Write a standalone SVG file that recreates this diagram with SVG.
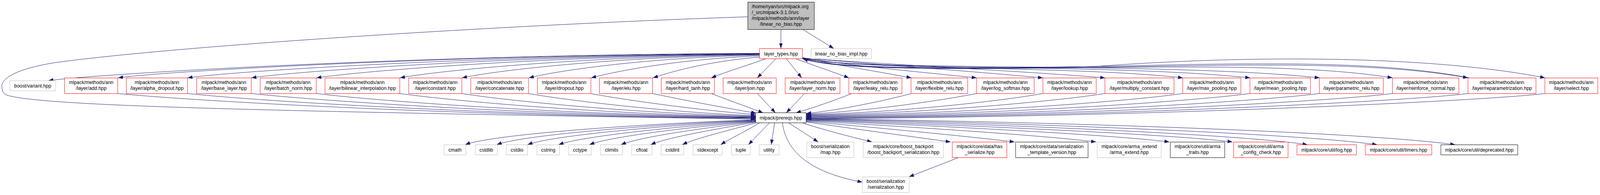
<svg xmlns="http://www.w3.org/2000/svg" width="4308" height="499" viewBox="0 0 4308 499">
<style>
.n rect{fill:#ffffff;stroke-width:1}
.r rect{stroke:#ff0000}
.g rect{stroke:#bfbfbf}
.k rect{stroke:#000000}
.root rect{fill:#bfbfbf;stroke:#000000}
text{font-family:"Liberation Sans",Arial,Helvetica,sans-serif;font-size:13px;fill:#000000;text-anchor:middle}
text.s{text-anchor:start}
#edges path{fill:none;stroke:#191970;stroke-width:1;marker-end:url(#a)}
</style>
<defs>
<marker id="a" markerWidth="14" markerHeight="10" refX="13.3" refY="4.65" orient="auto" markerUnits="userSpaceOnUse">
<path d="M0,0 L13.3,4.65 L0,9.3 z" fill="#191970"/>
</marker>
</defs>
<rect width="4308" height="499" fill="#ffffff"/>
<g id="diagram" transform="scale(0.9508,1)">
<g id="edges">
<path d="M2102.5,75.5 L2102.5,124.3"/>
<path d="M2161.7,75.5 L2245,124.3"/>
<path d="M2013,43 C1400,62 500,115 150,160 C30,178 5,205 5,220 C5,232 8,240 20,244 C120,270 600,283 2034.5,305"/>
<path d="M2045,136.5 C1086,140 228,192 130,206.5"/>
<path d="M2045,137 C1181,141 418,184 318,199.3"/>
<path d="M2045,137.5 C1275,142 605,184 505,199.3"/>
<path d="M2045,138 C1361,143 777,184 677,199.3"/>
<path d="M2045,138.5 C1448,144 952,184 852,199.3"/>
<path d="M2045,139 C1561,145 1170,182 1077,199.3"/>
<path d="M2045,140 C1645,146 1330,181 1244,199.3"/>
<path d="M2045,141 C1735,148 1500,181 1424,199.3"/>
<path d="M2045,143 C1820,152 1660,182 1591.5,199.3"/>
<path d="M2045,146 C1900,158 1810,183 1758,199.3"/>
<path d="M2062,150.3 C2020,165 1960,182 1915,199.3"/>
<path d="M2089,150.3 L2039,199.3"/>
<path d="M2117,150.3 L2158.6,199.3"/>
<path d="M2142,150.3 L2286,199.3"/>
<path d="M2160.7,148 C2260,168 2370,184 2454,199.3"/>
<path d="M2160.7,147.5 C2300,170 2500,186 2629.5,199.3"/>
<path d="M2160.7,148.5 C2400,168 2650,185 2808,199.3"/>
<path d="M2160.7,149 C2450,168 2800,185 2975.5,199.3"/>
<path d="M2160.7,149 C2300,180 2900,168 3185,199.3"/>
<path d="M2160.7,149.5 C2300,182 3000,162 3366,199.3"/>
<path d="M2160.7,149.5 C2300,183 3150,158 3553,199.3"/>
<path d="M2160.7,150 C2250,180 2550,177 2950,173 C3250,170 3550,168 3749,199.3"/>
<path d="M2160.7,150 C2250,179 2550,176 2950,172 C3350,166 3700,156 3952.5,199.3"/>
<path d="M2160.7,150 C2250,178 2600,176 2950,170 C3450,135 3900,150 4160,199.3"/>
<path d="M3957,199.3 C3700,152 3350,162 2950,170 C2550,176 2250,177 2162,150.8"/>
<path d="M317,239.3 C520,258 1200,296 2034.5,303"/>
<path d="M505,239.3 C690,258 1300,295 2034.5,302"/>
<path d="M676.5,239.3 C850,257 1400,294 2034.5,301"/>
<path d="M851.5,239.3 C1000,257 1500,293 2034.5,300"/>
<path d="M1076.5,239.3 C1200,256 1600,292 2034.5,299"/>
<path d="M1243.5,239.3 C1350,256 1700,290 2034.5,297.5"/>
<path d="M1423,239.3 C1520,256 1800,288 2034.5,296"/>
<path d="M1591,239.3 C1680,256 1900,284 2034.5,293"/>
<path d="M1757,239.3 C1830,254 1950,276 2036,289.5"/>
<path d="M1915,239.3 C1960,256 2020,276 2055,289"/>
<path d="M2039,239.3 L2088,288.7"/>
<path d="M2166,239.3 L2117,288.7"/>
<path d="M2293,239.3 C2250,256 2190,276 2143,288.7"/>
<path d="M2454,239.3 C2380,258 2260,282 2170.7,290.5"/>
<path d="M2629.5,239.3 C2530,258 2330,285 2170.7,292"/>
<path d="M2808,239.3 C2700,258 2420,288 2170.7,293.5"/>
<path d="M2975,239.3 C2850,258 2500,290 2170.7,295"/>
<path d="M3184.5,239.3 C3050,258 2600,292 2170.7,296.5"/>
<path d="M3365.5,239.3 C3220,258 2700,294 2170.7,298"/>
<path d="M3552.5,239.3 C3400,258 2800,296 2170.7,299.5"/>
<path d="M3749,239.3 C3600,258 2900,297 2170.7,301"/>
<path d="M3952.5,239.3 C3800,258 3000,298 2170.7,302.5"/>
<path d="M4159.5,239.3 C4000,258 3100,299 2170.7,304"/>
<path d="M2034.5,306.5 C1700,318 1320,345 1252.6,370.3"/>
<path d="M2034.5,307.5 C1730,320 1400,347 1337.6,370.3"/>
<path d="M2034.5,308.5 C1770,322 1480,348 1420.5,370.3"/>
<path d="M2034.5,309.5 C1810,324 1560,350 1504,370.3"/>
<path d="M2034.5,310.5 C1850,326 1640,350 1587,370.3"/>
<path d="M2034.5,311.5 C1890,328 1720,351 1672,370.3"/>
<path d="M2034.5,312.5 C1930,330 1795,352 1752,370.3"/>
<path d="M2036,314.3 C1970,332 1875,353 1837,370.3"/>
<path d="M2045,314.3 C2010,335 1965,355 1940.5,370.3"/>
<path d="M2071.7,314.3 L2015,370.3"/>
<path d="M2085.7,314.3 L2076.5,370.3"/>
<path d="M2123.3,314.3 L2203,363.3"/>
<path d="M2160,314.3 C2220,333 2290,350 2348,363.3"/>
<path d="M2170.7,312 C2300,330 2460,350 2559.5,363.3"/>
<path d="M2170.7,310.5 C2350,326 2600,348 2731.7,363.3"/>
<path d="M2170.7,309 C2400,322 2800,345 2951,363.3"/>
<path d="M2170.7,307.5 C2450,319 2980,343 3148.6,363.3"/>
<path d="M2170.7,306.5 C2500,317 3130,341 3318.5,363.3"/>
<path d="M2170.7,305.5 C2600,315 3330,342 3520.6,370.3"/>
<path d="M2170.7,304.5 C2700,313 3480,340 3708,370.3"/>
<path d="M2170.7,303.5 C2800,311 3650,336 3918,370.3"/>
<path d="M2106.7,314.3 C2115,380 2170,440 2322,466"/>
<path d="M2580,403.5 L2447.5,452.5"/>
</g>
<g id="root" class="n root"><rect x="2013.5" y="5.5" width="179" height="70"/><text class="s" x="2024" y="21">/home/ryan/src/mlpack.org</text><text class="s" x="2024" y="36">/_src/mlpack-3.1.0/src</text><text class="s" x="2024" y="51">/mlpack/methods/ann/layer</text><text x="2102.5" y="66">/linear_no_bias.hpp</text></g>
<g id="layer_types" class="n r"><rect x="2045" y="124.5" width="115.5" height="25.8"/><text x="2102.75" y="142">layer_types.hpp</text></g>
<g id="linear_no_bias_impl" class="n g"><rect x="2184" y="124.5" width="162.5" height="25.8"/><text x="2265.25" y="142">linear_no_bias_impl.hpp</text></g>
<g id="boost_variant" class="n g"><rect x="26.5" y="206.5" width="123" height="25.8"/><text x="88" y="224">boost/variant.hpp</text></g>
<g id="add" class="n r"><rect x="174" y="199.5" width="143" height="40"/><text x="245.5" y="215.5">mlpack/methods/ann</text><text x="245.5" y="230.5">/layer/add.hpp</text></g>
<g id="alpha_dropout" class="n r"><rect x="340" y="199.5" width="165" height="40"/><text x="422.5" y="215.5">mlpack/methods/ann</text><text x="422.5" y="230.5">/layer/alpha_dropout.hpp</text></g>
<g id="base_layer" class="n r"><rect x="529.5" y="199.5" width="147" height="40"/><text x="603" y="215.5">mlpack/methods/ann</text><text x="603" y="230.5">/layer/base_layer.hpp</text></g>
<g id="batch_norm" class="n r"><rect x="700.5" y="199.5" width="151" height="40"/><text x="776" y="215.5">mlpack/methods/ann</text><text x="776" y="230.5">/layer/batch_norm.hpp</text></g>
<g id="bilinear_interpolation" class="n r"><rect x="875" y="199.5" width="201.5" height="40"/><text x="975.75" y="215.5">mlpack/methods/ann</text><text x="975.75" y="230.5">/layer/bilinear_interpolation.hpp</text></g>
<g id="constant" class="n r"><rect x="1100.5" y="199.5" width="143" height="40"/><text x="1172" y="215.5">mlpack/methods/ann</text><text x="1172" y="230.5">/layer/constant.hpp</text></g>
<g id="concatenate" class="n r"><rect x="1267.5" y="199.5" width="155.5" height="40"/><text x="1345.25" y="215.5">mlpack/methods/ann</text><text x="1345.25" y="230.5">/layer/concatenate.hpp</text></g>
<g id="dropout" class="n r"><rect x="1447" y="199.5" width="144" height="40"/><text x="1519" y="215.5">mlpack/methods/ann</text><text x="1519" y="230.5">/layer/dropout.hpp</text></g>
<g id="elu" class="n r"><rect x="1614" y="199.5" width="143" height="40"/><text x="1685.5" y="215.5">mlpack/methods/ann</text><text x="1685.5" y="230.5">/layer/elu.hpp</text></g>
<g id="hard_tanh" class="n r"><rect x="1780.5" y="199.5" width="143" height="40"/><text x="1852" y="215.5">mlpack/methods/ann</text><text x="1852" y="230.5">/layer/hard_tanh.hpp</text></g>
<g id="join" class="n r"><rect x="1947" y="199.5" width="143" height="40"/><text x="2018.5" y="215.5">mlpack/methods/ann</text><text x="2018.5" y="230.5">/layer/join.hpp</text></g>
<g id="layer_norm" class="n r"><rect x="2114" y="199.5" width="147.5" height="40"/><text x="2187.75" y="215.5">mlpack/methods/ann</text><text x="2187.75" y="230.5">/layer/layer_norm.hpp</text></g>
<g id="leaky_relu" class="n r"><rect x="2285.5" y="199.5" width="143" height="40"/><text x="2357" y="215.5">mlpack/methods/ann</text><text x="2357" y="230.5">/layer/leaky_relu.hpp</text></g>
<g id="flexible_relu" class="n r"><rect x="2453" y="199.5" width="152.5" height="40"/><text x="2529.25" y="215.5">mlpack/methods/ann</text><text x="2529.25" y="230.5">/layer/flexible_relu.hpp</text></g>
<g id="log_softmax" class="n r"><rect x="2629.5" y="199.5" width="155" height="40"/><text x="2707" y="215.5">mlpack/methods/ann</text><text x="2707" y="230.5">/layer/log_softmax.hpp</text></g>
<g id="lookup" class="n r"><rect x="2808" y="199.5" width="143.5" height="40"/><text x="2879.75" y="215.5">mlpack/methods/ann</text><text x="2879.75" y="230.5">/layer/lookup.hpp</text></g>
<g id="multiply_constant" class="n r"><rect x="2975" y="199.5" width="186" height="40"/><text x="3068" y="215.5">mlpack/methods/ann</text><text x="3068" y="230.5">/layer/multiply_constant.hpp</text></g>
<g id="max_pooling" class="n r"><rect x="3184.5" y="199.5" width="156.5" height="40"/><text x="3262.75" y="215.5">mlpack/methods/ann</text><text x="3262.75" y="230.5">/layer/max_pooling.hpp</text></g>
<g id="mean_pooling" class="n r"><rect x="3365.5" y="199.5" width="163" height="40"/><text x="3447" y="215.5">mlpack/methods/ann</text><text x="3447" y="230.5">/layer/mean_pooling.hpp</text></g>
<g id="parametric_relu" class="n r"><rect x="3552.5" y="199.5" width="172" height="40"/><text x="3638.5" y="215.5">mlpack/methods/ann</text><text x="3638.5" y="230.5">/layer/parametric_relu.hpp</text></g>
<g id="reinforce_normal" class="n r"><rect x="3749" y="199.5" width="179" height="40"/><text x="3838.5" y="215.5">mlpack/methods/ann</text><text x="3838.5" y="230.5">/layer/reinforce_normal.hpp</text></g>
<g id="reparametrization" class="n r"><rect x="3952.5" y="199.5" width="183" height="40"/><text x="4044" y="215.5">mlpack/methods/ann</text><text x="4044" y="230.5">/layer/reparametrization.hpp</text></g>
<g id="select" class="n r"><rect x="4159.5" y="199.5" width="142.5" height="40"/><text x="4230.75" y="215.5">mlpack/methods/ann</text><text x="4230.75" y="230.5">/layer/select.hpp</text></g>
<g id="prereqs" class="n k"><rect x="2034.5" y="288.5" width="136" height="25.8"/><text x="2102.5" y="306">mlpack/prereqs.hpp</text></g>
<g id="cmath" class="n g"><rect x="1195.5" y="370.5" width="59" height="25.8"/><text x="1225" y="388">cmath</text></g>
<g id="cstdlib" class="n g"><rect x="1279.5" y="370.5" width="59.5" height="25.8"/><text x="1309.25" y="388">cstdlib</text></g>
<g id="cstdio" class="n g"><rect x="1363.5" y="370.5" width="57" height="25.8"/><text x="1392" y="388">cstdio</text></g>
<g id="cstring" class="n g"><rect x="1445.5" y="370.5" width="61" height="25.8"/><text x="1476" y="388">cstring</text></g>
<g id="cctype" class="n g"><rect x="1531" y="370.5" width="61" height="25.8"/><text x="1561.5" y="388">cctype</text></g>
<g id="climits" class="n g"><rect x="1617" y="370.5" width="59.5" height="25.8"/><text x="1646.75" y="388">climits</text></g>
<g id="cfloat" class="n g"><rect x="1700.5" y="370.5" width="55" height="25.8"/><text x="1728" y="388">cfloat</text></g>
<g id="cstdint" class="n g"><rect x="1780" y="370.5" width="61" height="25.8"/><text x="1810.5" y="388">cstdint</text></g>
<g id="stdexcept" class="n g"><rect x="1866" y="370.5" width="78.5" height="25.8"/><text x="1905.25" y="388">stdexcept</text></g>
<g id="tuple" class="n g"><rect x="1969.5" y="370.5" width="50.5" height="25.8"/><text x="1994.75" y="388">tuple</text></g>
<g id="utility" class="n g"><rect x="2044" y="370.5" width="53.5" height="25.8"/><text x="2070.75" y="388">utility</text></g>
<g id="serialization_map" class="n g"><rect x="2172.5" y="363.5" width="126.5" height="40"/><text x="2235.75" y="379.5">boost/serialization</text><text x="2235.75" y="394.5">/map.hpp</text></g>
<g id="boost_backport" class="n g"><rect x="2324.5" y="363.5" width="215.5" height="40"/><text x="2432.25" y="379.5">mlpack/core/boost_backport</text><text x="2432.25" y="394.5">/boost_backport_serialization.hpp</text></g>
<g id="has_serialize" class="n r"><rect x="2564" y="363.5" width="147" height="40"/><text x="2637.5" y="379.5">mlpack/core/data/has</text><text x="2637.5" y="394.5">_serialize.hpp</text></g>
<g id="template_version" class="n k"><rect x="2734.5" y="363.5" width="195" height="40"/><text x="2832" y="379.5">mlpack/core/data/serialization</text><text x="2832" y="394.5">_template_version.hpp</text></g>
<g id="arma_extend" class="n g"><rect x="2954" y="363.5" width="172.5" height="40"/><text x="3040.25" y="379.5">mlpack/core/arma_extend</text><text x="3040.25" y="394.5">/arma_extend.hpp</text></g>
<g id="arma_traits" class="n k"><rect x="3151" y="363.5" width="146.5" height="40"/><text x="3224.25" y="379.5">mlpack/core/util/arma</text><text x="3224.25" y="394.5">_traits.hpp</text></g>
<g id="arma_config_check" class="n r"><rect x="3321.5" y="363.5" width="146.5" height="40"/><text x="3394.75" y="379.5">mlpack/core/util/arma</text><text x="3394.75" y="394.5">_config_check.hpp</text></g>
<g id="log" class="n r"><rect x="3492" y="370.5" width="160" height="25.8"/><text x="3572" y="388">mlpack/core/util/log.hpp</text></g>
<g id="timers" class="n r"><rect x="3676" y="370.5" width="179" height="25.8"/><text x="3765.5" y="388">mlpack/core/util/timers.hpp</text></g>
<g id="deprecated" class="n k"><rect x="3879.5" y="370.5" width="207" height="25.8"/><text x="3983" y="388">mlpack/core/util/deprecated.hpp</text></g>
<g id="serialization" class="n g"><rect x="2322" y="452.5" width="126" height="40"/><text x="2385" y="468.5">boost/serialization</text><text x="2385" y="483.5">/serialization.hpp</text></g>
</g>
</svg>
